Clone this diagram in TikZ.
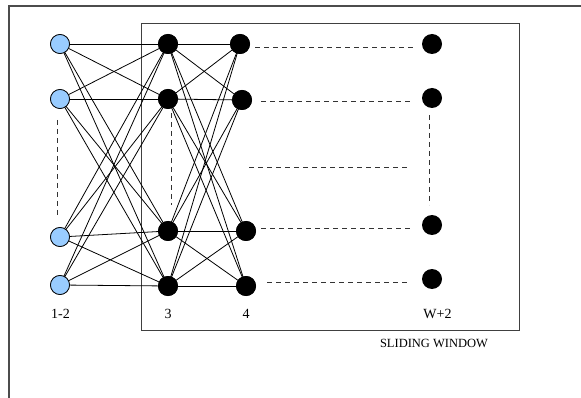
\documentclass[tikz,border=0pt]{standalone}
\usepackage{fontspec}
\setmainfont{Liberation Serif}
\begin{document}
\begin{tikzpicture}[x=1pt,y=-1pt,
  bluenode/.style={circle,draw=black,line width=0.7pt,fill=bluefill,minimum size=19pt,inner sep=0pt},
  blknode/.style={circle,fill=black,minimum size=20pt,inner sep=0pt},
  link/.style={line width=0.8pt},
  dashline/.style={line width=0.8pt,dash pattern=on 5pt off 4pt,draw=black!80},
  lbl/.style={font=\fontsize{14}{16}\selectfont,inner sep=0pt}]
\definecolor{bluefill}{HTML}{99CCFF}
\useasboundingbox (0,0) rectangle (581,398);
% outer frame
\draw[line width=1.2pt,draw=black!70] (9,398) -- (9,6) -- (581,6);
% sliding window
\draw[line width=1pt,draw=black!75] (141,24) rectangle (519,330);
% nodes
\node[bluenode] (a1) at (60,44) {};
\node[bluenode] (a2) at (60,99) {};
\node[bluenode] (a3) at (60,237) {};
\node[bluenode] (a4) at (60,285) {};
\node[blknode] (b1) at (168,44) {};
\node[blknode] (b2) at (168,99) {};
\node[blknode] (b3) at (168,231) {};
\node[blknode] (b4) at (168,286) {};
\node[blknode] (c1) at (240,44) {};
\node[blknode] (c2) at (242,100) {};
\node[blknode] (c3) at (246,231) {};
\node[blknode] (c4) at (246,286) {};
\node[blknode] (d1) at (432,44) {};
\node[blknode] (d2) at (432,98) {};
\node[blknode] (d3) at (432,225) {};
\node[blknode] (d4) at (432,279) {};
% edges
\foreach \i in {1,...,4}{
  \foreach \j in {1,...,4}{
    \draw[link] (a\i.center) -- (b\j.center);
    \draw[link] (b\i.center) -- (c\j.center);
  }
}
% redraw nodes on top
\foreach \n in {b1,b2,b3,b4,c1,c2,c3,c4}{\fill (\n) circle (10pt);}
\foreach \n in {a1,a2,a3,a4}{\filldraw[fill=bluefill,draw=black,line width=0.7pt] (\n) circle (9.5pt);}
% dashed coordinates
\coordinate (v1t) at (57,120); \coordinate (v1b) at (57,215);
\coordinate (v2t) at (171,113); \coordinate (v2b) at (171,205);
\coordinate (v3t) at (429,115); \coordinate (v3b) at (429,205);
\coordinate (m1) at (249,167); \coordinate (m2) at (408,167);
\coordinate (h1a) at (255,47); \coordinate (h1b) at (413,47);
\coordinate (h2a) at (261,101); \coordinate (h2b) at (410,101);
\coordinate (h3a) at (261,228); \coordinate (h3b) at (410,228);
\coordinate (h4a) at (267,282); \coordinate (h4b) at (408,282);
\draw[dashline] (v1t) -- (v1b);
\draw[dashline] (v2t) -- (v2b);
\draw[dashline] (v3t) -- (v3b);
\draw[dashline] (m1) -- (m2);
\draw[dashline] (h1a) -- (h1b);
\draw[dashline] (h2a) -- (h2b);
\draw[dashline] (h3a) -- (h3b);
\draw[dashline] (h4a) -- (h4b);
% labels
\node[lbl] (l1) at (60.5,313.5) {1-2};
\node[lbl] (l2) at (168,313.5) {3};
\node[lbl] (l3) at (246,313.5) {4};
\node[lbl] (l4) at (437.5,313.5) {W+2};
\node[lbl,font=\fontsize{12.5}{14}\selectfont] (l5) at (434,343.5) {SLIDING WINDOW};
\end{tikzpicture}
\end{document}
